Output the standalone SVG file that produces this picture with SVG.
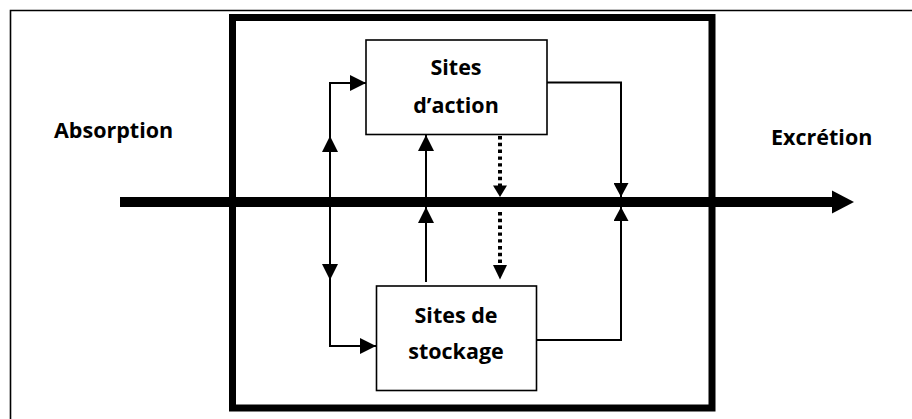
<svg xmlns="http://www.w3.org/2000/svg" width="912" height="419" viewBox="0 0 912 419">
<style>
.lbl{font-family:"Open Sans","Liberation Sans",sans-serif;font-weight:bold;font-size:21.5px;fill:#000}
.box{fill:#fff;stroke:#000;stroke-width:1.6}
.con{fill:none;stroke:#000;stroke-width:2}
.dot{fill:none;stroke:#000;stroke-width:4;stroke-dasharray:3.4 3.4}
</style>
<defs>
<marker id="ah" viewBox="0 0 16 16" refX="16" refY="8" markerWidth="16" markerHeight="16" markerUnits="userSpaceOnUse" orient="auto">
<path d="M0,0 L16,8 L0,16 Z" fill="#000"/>
</marker>
<marker id="ahd" viewBox="0 0 14 15" refX="14" refY="7.5" markerWidth="14" markerHeight="15" markerUnits="userSpaceOnUse" orient="auto">
<path d="M0,0 L14,7.5 L0,15 Z" fill="#000"/>
</marker>
</defs>
<rect width="912" height="419" fill="#fff"/>
<path d="M10.5,430 V10.5 H920" fill="none" stroke="#000" stroke-width="1.6"/>
<rect id="compartment" x="232.5" y="17.5" width="479.5" height="390.5" fill="none" stroke="#000" stroke-width="7"/>
<g id="absorption"><text class="lbl" x="54" y="137.5">Absorption</text></g>
<g id="excretion"><text class="lbl" x="771" y="144.5">Excrétion</text></g>
<g id="flow">
<path d="M120,202 H834" stroke="#000" stroke-width="10" fill="none"/>
<path d="M832,190.5 L854,202 L832,213.5 Z" fill="#000"/>
</g>
<g id="sites-action">
<rect class="box" x="366" y="40" width="181" height="94.5"/>
<text class="lbl" x="456" y="75" text-anchor="middle">Sites</text>
<text class="lbl" x="456" y="113" text-anchor="middle">d’action</text>
</g>
<g id="sites-stockage">
<rect class="box" x="376.5" y="286" width="160" height="104.5"/>
<text class="lbl" x="456" y="322.5" text-anchor="middle">Sites de</text>
<text class="lbl" x="456" y="359" text-anchor="middle">stockage</text>
</g>
<g id="connectors">
<path class="con" d="M330,197 V136" marker-end="url(#ah)"/>
<path class="con" d="M330,137 V83 H366" marker-end="url(#ah)"/>
<path class="con" d="M330,207 V280" marker-end="url(#ah)"/>
<path class="con" d="M330,279 V346 H376" marker-end="url(#ah)"/>
<path class="con" d="M426,282 V207" marker-end="url(#ah)"/>
<path class="con" d="M426,197 V135" marker-end="url(#ah)"/>
<path class="dot" d="M500,136 V186"/>
<path d="M493,185.5 L500,197 L507,185.5 Z" fill="#000"/>
<path class="dot" d="M500,212 V266"/>
<path d="M493,265 L500,279.5 L507,265 Z" fill="#000"/>
<path class="con" d="M547,82.5 H621 V197" marker-end="url(#ahd)"/>
<path class="con" d="M536.5,340 H621 V207" marker-end="url(#ahd)"/>
</g>
</svg>
